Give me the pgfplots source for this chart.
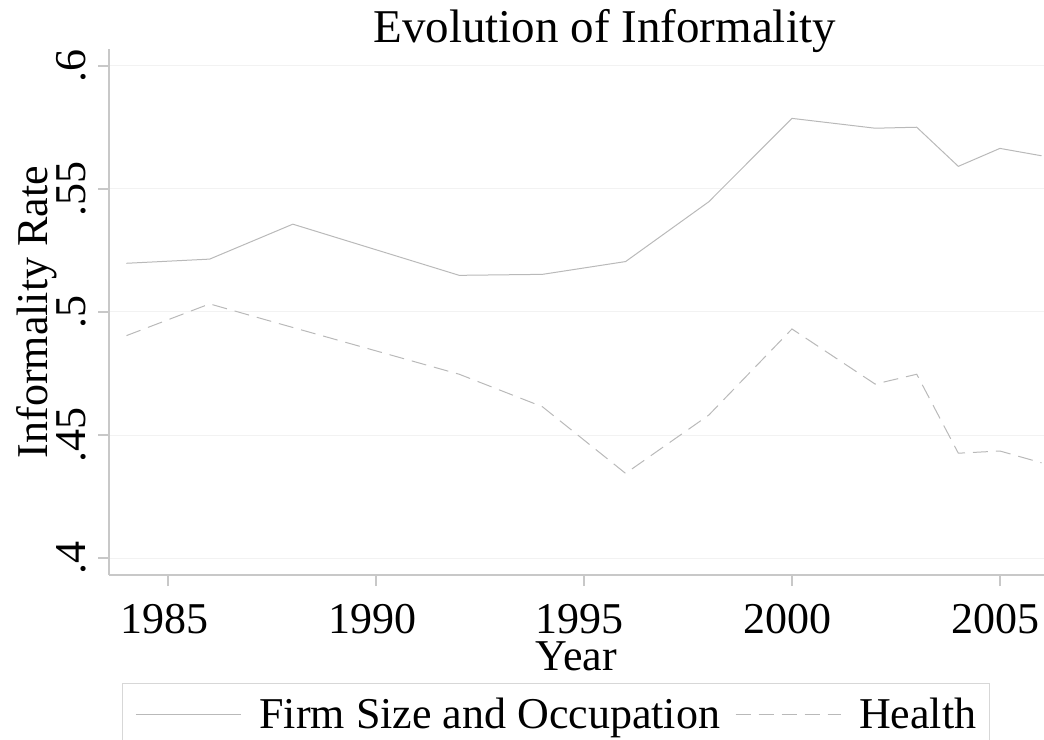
\documentclass[border=0pt]{standalone}
\usepackage{fontspec}
\setmainfont{Liberation Serif}
\usepackage{pgfplots}
\pgfplotsset{compat=1.18}
\definecolor{lineg}{RGB}{185,185,185}
\definecolor{axg}{RGB}{200,200,200}
\definecolor{gridg}{RGB}{242,242,242}
\definecolor{legg}{RGB}{215,215,215}
\newcommand{\lf}{\fontsize{22}{26}\selectfont}
\begin{document}
\begin{tikzpicture}
\begin{axis}[
 name=ax,
 scale only axis, width=467.5pt, height=263pt,
 xmin=1983.58, xmax=2006.06, ymin=0.3931, ymax=0.6069,
 axis x line*=bottom, axis y line*=left,
 axis line style={axg, line width=0.6pt, -},
 tick align=outside, major tick length=5.5pt,
 tick style={axg, line width=0.6pt},
 xtick={1985,1990,1995,2000,2005},
 xticklabels={1985,1990,1995,2000,2005},
 ytick={0.4,0.45,0.5,0.55,0.6},
 yticklabels={.4,.45,.5,.55,.6},
 ymajorgrids, grid style={gridg, line width=0.5pt},
 ticklabel style={font=\lf},
 xticklabel style={inner sep=0pt, anchor=base, yshift=-23.5pt, xshift=-2pt},
 yticklabel style={inner sep=0pt, rotate=90, anchor=base, yshift=6.5pt},
 xlabel={Year},
 xlabel style={at={(axis description cs:0.5,-0.1806)}, anchor=base, font=\lf, inner sep=0pt},
 ylabel={Informality Rate},
 ylabel style={at={(axis description cs:-0.0663,0.5)}, anchor=base, rotate=0, font=\lf, inner sep=0pt},
 title={Evolution of Informality},
 title style={at={(axis description cs:0.530,0.9886)}, anchor=base, font=\fontsize{23.5}{28}\selectfont, inner sep=0pt},
 legend style={at={(axis description cs:0.478,-0.2053)}, anchor=north, legend columns=2, draw=legg, line width=0.6pt, font=\lf, inner xsep=6.5pt, inner ysep=7pt, nodes={inner sep=0pt}, /tikz/every odd column/.append style={column sep=9pt}, /tikz/every even column/.append style={column sep=7.5pt}},
 legend image code/.code={\draw[#1] (0pt,0pt) -- (52.5pt,0pt);},
]
\addplot[lineg, line width=0.5pt] coordinates {
(1984,0.5198) (1986,0.5215) (1988,0.5357) (1992,0.5149) (1994,0.5153) (1996,0.5205) (1998,0.5448) (2000,0.5787) (2002,0.5747) (2003,0.5751) (2004,0.5592) (2005,0.5665) (2006,0.5635)};
\addlegendentry{Firm Size and Occupation}
\addplot[lineg, line width=0.5pt, dash pattern=on 7.5pt off 4pt] coordinates {
(1984,0.4904) (1986,0.5033) (1988,0.4937) (1992,0.4747) (1994,0.4615) (1996,0.4344) (1998,0.4581) (2000,0.4931) (2002,0.4707) (2003,0.4747) (2004,0.4426) (2005,0.4435) (2006,0.4387)};
\addlegendentry{Health}
\end{axis}
\pgfresetboundingbox
\path[use as bounding box] ([xshift=-54.5pt,yshift=-82pt]ax.south west) rectangle ([yshift=24.5pt]ax.north east);
\end{tikzpicture}
\end{document}
